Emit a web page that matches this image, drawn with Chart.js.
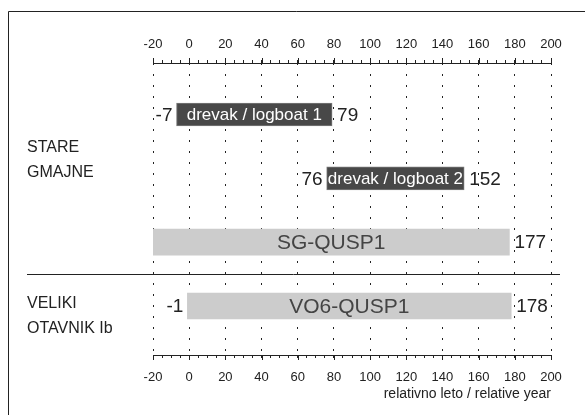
<!DOCTYPE html>
<html lang="sl">
<head>
    <meta charset="UTF-8">
    <title>Relativno leto</title>
    <style>
        html, body {
            margin: 0;
            padding: 0;
            background: #fff;
        }
        #wrap {
            width: 585px;
            height: 415px;
        }
    </style>
    <script src="https://cdn.jsdelivr.net/npm/chart.js"></script>
</head>
<body>
    <div id="wrap"><canvas id="chart"></canvas></div>

    <script>
        // podatki
        const categories = ['drevak / logboat 1', 'drevak / logboat 2', 'SG-QUSP1', 'VO6-QUSP1'];
        const starts = [-7, 76, -20, -1];
        const ends = [79, 152, 177, 178];
        const startLabels = ['-7', '76', '', '-1'];
        const endLabels = ['79', '152', '177', '178'];
        const groups = ['STARE\nGMAJNE', 'VELIKI\nOTAVNIK Ib'];
        const xMin = -20;
        const xMax = 200;
        const axisTitle = 'relativno leto / relative year';

        const FONT = '"Liberation Sans", Arial, sans-serif';

        function rows(filter) {
            const out = [];
            categories.forEach((c, i) => {
                if (filter(i)) out.push({ x: [starts[i], ends[i]], y: i + 1 });
            });
            return out;
        }

        const decor = {
            id: 'decor',
            afterDatasetsDraw(chart) {
                const ctx = chart.ctx;
                const xs = chart.scales.x;
                const ys = chart.scales.y;
                const area = chart.chartArea;
                ctx.save();

                // okvir
                ctx.strokeStyle = '#222';
                ctx.lineWidth = 1;
                ctx.beginPath();
                ctx.moveTo(8.5, 415);
                ctx.lineTo(8.5, 11.5);
                ctx.lineTo(585, 11.5);
                ctx.stroke();

                // daljše glavne oznake na obeh oseh
                ctx.beginPath();
                xs.ticks.forEach(t => {
                    if (t.value % 20 !== 0) return;
                    const px = Math.round(xs.getPixelForValue(t.value)) + 0.5;
                    ctx.moveTo(px, area.top);
                    ctx.lineTo(px, area.top - 5);
                    ctx.moveTo(px, area.bottom);
                    ctx.lineTo(px, area.bottom + 5);
                });
                ctx.stroke();

                // ločilna črta med najdišči
                const sepY = Math.round(ys.getPixelForValue(3.5)) + 0.5;
                ctx.beginPath();
                ctx.moveTo(27, sepY);
                ctx.lineTo(xs.right + 9, sepY);
                ctx.stroke();

                // imena najdišč
                ctx.fillStyle = '#222';
                ctx.font = '16px ' + FONT;
                ctx.textAlign = 'left';
                ctx.textBaseline = 'middle';
                const groupY = [ys.getPixelForValue(1.72), ys.getPixelForValue(4.16)];
                groups.forEach((g, gi) => {
                    const lines = g.split('\n');
                    lines.forEach((l, li) => {
                        ctx.fillText(l, 27, groupY[gi] + (li - (lines.length - 1) / 2) * 25);
                    });
                });

                // napisi na stolpcih in vrednosti
                categories.forEach((c, i) => {
                    const y = ys.getPixelForValue(i + 1);
                    const x0 = xs.getPixelForValue(starts[i]);
                    const x1 = xs.getPixelForValue(ends[i]);
                    const dark = i < 2;
                    ctx.textBaseline = 'middle';
                    ctx.textAlign = 'center';
                    ctx.font = (dark ? '17px ' : '21px ') + FONT;
                    ctx.fillStyle = dark ? '#ffffff' : '#444';
                    ctx.fillText(c, (x0 + x1) / 2, y + 1);

                    ctx.font = '19px ' + FONT;
                    ctx.fillStyle = '#222';
                    if (startLabels[i]) {
                        ctx.textAlign = 'right';
                        ctx.fillText(startLabels[i], x0 - 4, y + 1);
                    }
                    if (endLabels[i]) {
                        ctx.textAlign = 'left';
                        ctx.fillText(endLabels[i], x1 + 5, y + 1);
                    }
                });

                // naslov osi
                ctx.font = '14px ' + FONT;
                ctx.textAlign = 'right';
                ctx.textBaseline = 'middle';
                ctx.fillStyle = '#222';
                ctx.fillText(axisTitle, xs.right, 394);
                ctx.restore();
            }
        };

        function tickOpts(pad) {
            return {
                stepSize: 5,
                autoSkip: false,
                maxRotation: 0,
                padding: pad,
                color: '#222',
                font: { family: FONT, size: 13 },
                callback: v => (v % 20 === 0 ? v : '')
            };
        }

        new Chart(document.getElementById('chart'), {
            type: 'bar',
            data: {
                datasets: [
                    {
                        data: rows(i => i < 2),
                        backgroundColor: '#484848',
                        borderColor: '#7a7a7a',
                        borderWidth: 1,
                        borderSkipped: false,
                        barThickness: 23,
                        grouped: false
                    },
                    {
                        data: rows(i => i >= 2),
                        backgroundColor: '#cccccc',
                        borderWidth: 0,
                        barThickness: 26,
                        grouped: false
                    }
                ]
            },
            options: {
                indexAxis: 'y',
                responsive: true,
                maintainAspectRatio: false,
                animation: false,
                layout: { padding: { top: 11, left: 153, right: 34, bottom: 20 } },
                plugins: {
                    legend: { display: false },
                    tooltip: { enabled: false }
                },
                scales: {
                    y: {
                        type: 'linear',
                        reverse: true,
                        offset: false,
                        min: 0.193,
                        max: 4.768,
                        display: false
                    },
                    x: {
                        type: 'linear',
                        position: 'bottom',
                        min: xMin,
                        max: xMax,
                        afterFit: s => { s.height = 40; },
                        border: { display: true, color: '#222', width: 1, dash: [2, 9] },
                        grid: {
                            color: c => (c.tick && c.tick.value % 20 === 0 ? '#222' : 'rgba(0,0,0,0)'),
                            tickColor: '#222',
                            tickLength: 3,
                            tickBorderDash: []
                        },
                        ticks: tickOpts(12)
                    },
                    x2: {
                        type: 'linear',
                        position: 'top',
                        min: xMin,
                        max: xMax,
                        afterFit: s => { s.height = 52; },
                        border: { display: true, color: '#222', width: 1 },
                        grid: {
                            drawOnChartArea: false,
                            color: '#222',
                            tickLength: 3
                        },
                        ticks: tickOpts(8)
                    }
                }
            },
            plugins: [decor]
        });
    </script>
</body>
</html>
